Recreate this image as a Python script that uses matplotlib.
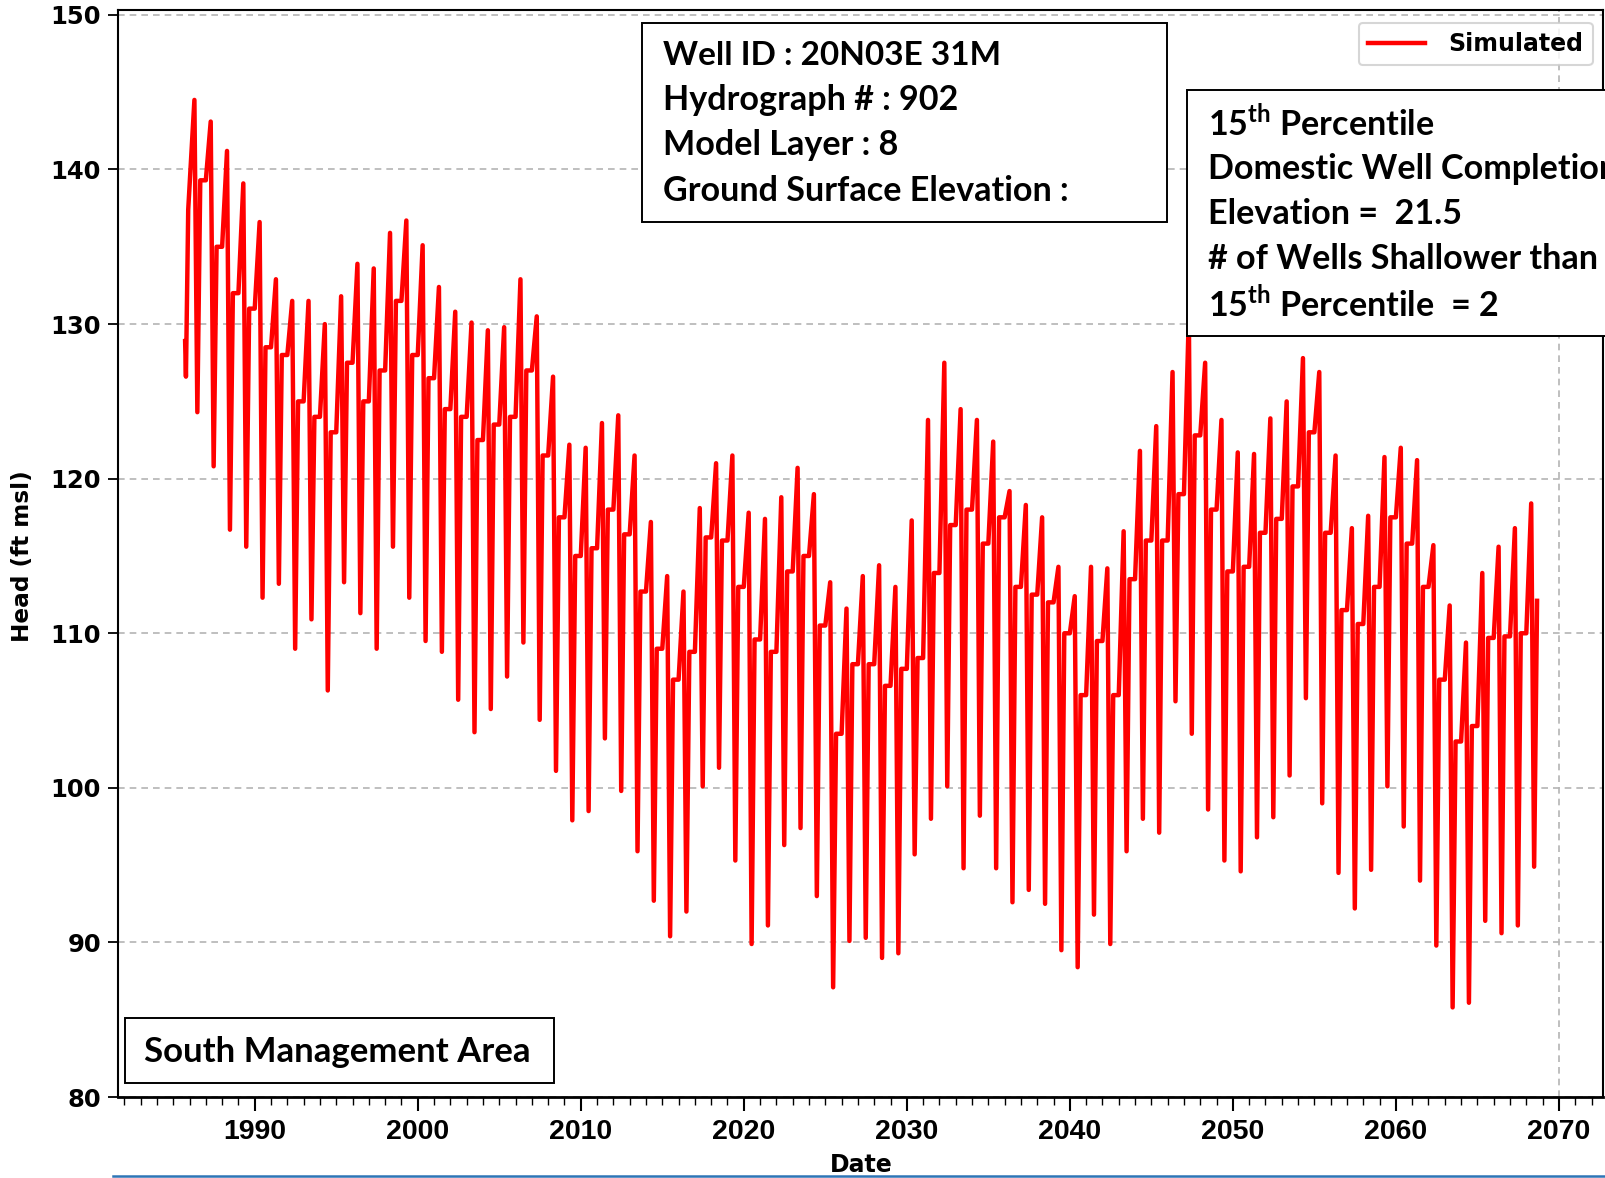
import matplotlib
matplotlib.use('Agg')
import matplotlib.pyplot as plt
from matplotlib.patches import Rectangle
from matplotlib.lines import Line2D
from matplotlib.ticker import MultipleLocator

plt.rcParams['mathtext.fontset'] = 'custom'
plt.rcParams['mathtext.rm'] = 'Lato:bold'

# one seasonal cycle per year: peak, trough right after it, then a quick rise to a shoulder
years = list(range(1986, 2069))
peaks = [144.5, 143.1, 141.2, 139.1, 136.6, 132.9, 131.5, 131.5, 130.0, 131.8, 133.9, 133.6, 135.9, 136.7, 135.1,
         132.4, 130.8, 130.1, 129.6, 129.8, 132.9, 130.5, 126.6, 122.2, 122.0, 123.6, 124.1, 121.5, 117.2, 113.7,
         112.7, 118.1, 121.0, 121.5, 117.8, 117.4, 118.8, 120.7, 119.0, 113.3, 111.6, 113.7, 114.4, 113.0, 117.3,
         123.8, 127.5, 124.5, 123.8, 122.4, 119.2, 118.3, 117.5, 114.3, 112.4, 114.3, 114.2, 116.6, 121.8, 123.4,
         126.9, 130.6, 127.5, 123.8, 121.7, 121.6, 123.9, 125.0, 127.8, 126.9, 121.5, 116.8, 117.6, 121.4, 122.0,
         121.2, 115.7, 111.8, 109.4, 113.9, 115.6, 116.8, 118.4]
troughs = [124.3, 120.8, 116.7, 115.6, 112.3, 113.2, 109.0, 110.9, 106.3, 113.3, 111.3, 109.0, 115.6, 112.3, 109.5,
           108.8, 105.7, 103.6, 105.1, 107.2, 109.4, 104.4, 101.1, 97.9, 98.5, 103.2, 99.8, 95.9, 92.7, 90.4,
           92.0, 100.1, 101.3, 95.3, 89.9, 91.1, 96.3, 97.4, 93.0, 87.1, 90.1, 90.3, 89.0, 89.3, 95.7,
           98.0, 100.1, 94.8, 98.2, 94.8, 92.6, 93.4, 92.5, 89.5, 88.4, 91.8, 89.9, 95.9, 98.0, 97.1,
           105.6, 103.5, 98.6, 95.3, 94.6, 96.8, 98.1, 100.8, 105.8, 99.0, 94.5, 92.2, 94.7, 100.1, 97.5,
           94.0, 89.8, 85.8, 86.1, 91.4, 90.6, 91.1, 94.9]
shoulders = [139.3, 135.0, 132.0, 131.0, 128.5, 128.0, 125.0, 124.0, 123.0, 127.5, 125.0, 127.0, 131.5, 128.0, 126.5,
             124.5, 124.0, 122.5, 123.5, 124.0, 127.0, 121.5, 117.5, 115.0, 115.5, 118.0, 116.4, 112.7, 109.0, 107.0,
             108.8, 116.2, 116.0, 113.0, 109.6, 108.8, 114.0, 115.0, 110.5, 103.5, 108.0, 108.0, 106.6, 107.7, 108.4,
             113.9, 117.0, 118.0, 115.8, 117.5, 113.0, 112.5, 112.0, 110.0, 106.0, 109.5, 106.0, 113.5, 116.0, 116.0,
             119.0, 122.8, 118.0, 114.0, 114.3, 116.5, 117.4, 119.5, 123.0, 116.5, 111.5, 110.6, 113.0, 117.5, 115.8,
             113.0, 107.0, 103.0, 104.0, 109.7, 109.8, 110.0, 112.1]
start_t = [1985.73, 1985.78, 1985.92]
start_h = [128.9, 126.6, 137.4]

t = list(start_t)
h = list(start_h)
for i, (yr, p, tr, s) in enumerate(zip(years, peaks, troughs, shoulders)):
    t += [yr + 0.3, yr + 0.48, yr + 0.66]
    h += [p, tr, s]
    if i < len(years) - 1:
        # shoulder holds a few months before the next spike
        t.append(yr + 1.0)
        h.append(s)

# layout measured on the reference at 1568 x 1150
RW, RH = 1568, 1150


def fx(x):
    return x / RW


def fy(y):
    return 1 - y / RH


fig = plt.figure(figsize=(16.06, 11.78), dpi=100)
ax = fig.add_axes([fx(115), fy(1071), (1565 - 115) / RW, (1071 - 10) / RH])

ax.plot(t, h, color='#ff0000', lw=3.2, label='Simulated', zorder=3)
ax.set_xlim(1981.6, 2072.7)
ax.set_ylim(80, 150.3)
ax.yaxis.set_major_locator(MultipleLocator(10))
ax.xaxis.set_major_locator(MultipleLocator(10))
ax.xaxis.set_minor_locator(MultipleLocator(1))
ax.grid(axis='y', ls='--', color='#b4b4b4', lw=1.2, dashes=(4, 3))
ax.axvline(2070, ls='--', color='#b4b4b4', lw=1.2, dashes=(4, 3))
for side in ['top', 'left', 'right']:
    ax.spines[side].set_linewidth(1.5)
ax.spines['bottom'].set_linewidth(2)

ax.tick_params(axis='y', direction='out', length=7, width=1.3, pad=5)
ax.tick_params(axis='x', which='major', direction='out', length=10, width=1.5, pad=6)
ax.tick_params(axis='x', which='minor', direction='out', length=6, width=1)
for lab in ax.get_yticklabels():
    lab.set_fontfamily('DejaVu Sans')
    lab.set_fontweight('bold')
    lab.set_fontsize(17.5)
for lab in ax.get_xticklabels():
    lab.set_fontfamily('Liberation Sans')
    lab.set_fontweight('bold')
    lab.set_fontsize(20.5)

fig.text(fx(22), fy(543), 'Head (ft msl)', rotation=90, ha='center', va='center',
         fontsize=16.7, fontweight='bold', family='DejaVu Sans')
fig.text(fx(841), fy(1137), 'Date', ha='center', va='center',
         fontsize=17, fontweight='bold', family='DejaVu Sans')

leg = ax.legend(loc='upper right', bbox_to_anchor=(fx(1555), fy(22)), bbox_transform=fig.transFigure,
                borderaxespad=0, handlelength=2.4, handletextpad=1.0, fancybox=True,
                prop={'family': 'DejaVu Sans', 'weight': 'bold', 'size': 17})
leg.get_frame().set_edgecolor('#cccccc')
leg.get_frame().set_linewidth(1.5)


def box(x0, y0, x1, y1):
    fig.add_artist(Rectangle((fx(x0), fy(y1)), (x1 - x0) / RW, (y1 - y0) / RH,
                             transform=fig.transFigure, facecolor='white', edgecolor='black', lw=1.4, zorder=5))


def line(x, y, s, size=24.6):
    fig.text(fx(x), fy(y), s, ha='left', va='center', family='Lato', fontweight='bold',
             fontsize=size, zorder=6)


box(627, 22, 1139, 217)
line(647, 54, 'Well ID : 20N03E 31M', 24.0)
line(647, 98, 'Hydrograph # : 902')
line(647, 142, 'Model Layer : 8')
line(647, 186, 'Ground Surface Elevation :')

box(1159, 88, 1640, 328)
line(1179, 121, r'15$^{\mathrm{th}}$ Percentile')
line(1179, 165, 'Domestic Well Completion')
line(1179, 209, 'Elevation =  21.5')
line(1179, 253, '# of Wells Shallower than')
line(1179, 297, r'15$^{\mathrm{th}}$ Percentile  = 2')

box(122, 994, 541, 1057)
line(141, 1027, 'South Management Area', 25.0)

fig.add_artist(Line2D([fx(110), fx(1566)], [fy(1148), fy(1148)], color='#2e75b6', lw=1.8))

fig.savefig('out.png', dpi=100)
